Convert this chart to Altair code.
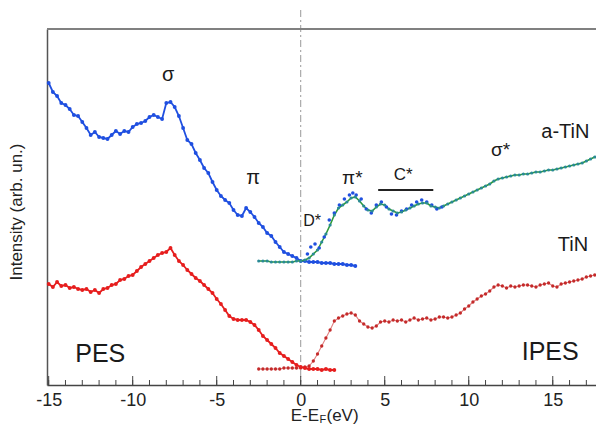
import altair as alt
import pandas as pd

# ---------------- data ----------------
ENERGY = [
    -15.0, -14.75, -14.5, -14.25, -14.0, -13.75, -13.5, -13.25,
    -13.0, -12.75, -12.5, -12.25, -12.0, -11.75, -11.5, -11.25,
    -11.0, -10.75, -10.5, -10.25, -10.0, -9.75, -9.5, -9.25,
    -9.0, -8.75, -8.5, -8.25, -8.0, -7.75, -7.5, -7.25,
    -7.0, -6.75, -6.5, -6.25, -6.0, -5.75, -5.5, -5.25,
    -5.0, -4.75, -4.5, -4.25, -4.0, -3.75, -3.5, -3.25,
    -3.0, -2.75, -2.5, -2.25, -2.0, -1.75, -1.5, -1.25,
    -1.0, -0.75, -0.5, -0.25, 0.0, 0.25, 0.5, 0.75,
    1.0, 1.25, 1.5, 1.75, 2.0, 2.25, 2.5, 2.75,
    3.0, 3.25, 3.5, 3.75, 4.0, 4.25, 4.5, 4.75,
    5.0, 5.25, 5.5, 5.75, 6.0, 6.25, 6.5, 6.75,
    7.0, 7.25, 7.5, 7.75, 8.0, 8.25, 8.5, 8.75,
    9.0, 9.25, 9.5, 9.75, 10.0, 10.25, 10.5, 10.75,
    11.0, 11.25, 11.5, 11.75, 12.0, 12.25, 12.5, 12.75,
    13.0, 13.25, 13.5, 13.75, 14.0, 14.25, 14.5, 14.75,
    15.0, 15.25, 15.5, 15.75, 16.0, 16.25, 16.5, 16.75,
    17.0, 17.25, 17.5, 17.75, 18.0,
]

# a-TiN PES (blue), starts at -15 eV
ATIN_PES = [
    302, 293, 289, 282, 280, 276, 270, 269,
    263, 257, 250, 253, 248, 247, 246, 250,
    254, 251, 254, 253, 258, 261, 262, 264,
    268, 270, 268, 266, 282, 283, 278, 269,
    257, 245, 241, 232, 225, 217, 212, 203,
    195, 189, 185, 182, 175, 170, 169, 177,
    173, 168, 162, 158, 152, 149, 143, 138,
    133, 131, 129, 127, 124, 124, 123, 123,
    123, 122, 122, 122, 121, 121, 121, 120,
    120, 119,
]

# a-TiN IPES (green fit), starts at -2.5 eV
ATIN_IPES = [
    124, 124, 124, 123, 123, 123, 123, 123,
    123, 124, 124, 125, 127, 131, 135, 143,
    151, 160, 170, 177, 180, 183, 187, 188,
    184, 179, 175, 174, 178, 181, 180, 176,
    174, 172, 173, 175, 177, 179, 181, 182,
    182, 179, 178, 177, 179, 181, 183, 185,
    187, 189, 191, 193, 195, 197, 199, 201,
    204, 206, 207, 208, 209, 210, 210, 211,
    211, 212, 213, 213, 214, 215, 215, 216,
    217, 218, 219, 220, 221, 222, 224, 226,
    228, 229, 230,
]

# a-TiN IPES raw points (blue) near the onset
ATIN_IPES_RAW_E = [0.4, 0.6, 0.85, 1.1, 1.4, 1.7, 2.0, 2.3, 2.6, 2.9, 3.1, 3.3, 3.6, 3.9,
                   4.2, 4.5, 4.8, 5.1, 5.4, 5.7, 6.0, 6.3, 6.6, 6.9, 7.2, 7.5, 7.8, 8.1, 8.4]
ATIN_IPES_RAW_I = [131, 138, 141, 137, 148, 165, 172, 180, 186, 190, 192, 190, 186, 176,
                   172, 180, 183, 178, 171, 170, 174, 176, 180, 183, 185, 183, 180, 176, 178]

# TiN PES (red), starts at -15 eV
TIN_PES = [
    101, 98, 103, 99, 100, 97, 98, 96,
    95, 96, 93, 95, 92, 96, 97, 100,
    101, 105, 106, 109, 110, 114, 118, 121,
    124, 127, 130, 132, 133, 137, 130, 124,
    120, 115, 111, 107, 104, 100, 96, 92,
    86, 81, 75, 69, 66, 65, 65, 65,
    63, 60, 55, 49, 45, 41, 37, 32,
    29, 26, 23, 20, 18, 17, 16, 16,
    16, 15, 16, 15, 15,
]

# TiN IPES (dark red points, pink fit), starts at -2.5 eV
TIN_IPES = [
    16, 16, 16, 16, 16, 16, 17, 17,
    17, 17, 17, 18, 19, 24, 31, 39,
    47, 55, 64, 67, 69, 71, 72, 70,
    64, 61, 58, 57, 59, 63, 64, 63,
    65, 64, 65, 63, 65, 67, 65, 66,
    67, 65, 66, 68, 68, 67, 68, 70,
    72, 76, 79, 83, 86, 89, 91, 94,
    98, 100, 99, 97, 99, 98, 99, 100,
    100, 99, 98, 100, 101, 102, 99, 98,
    101, 102, 103, 104, 105, 106, 108, 109,
    110, 111, 112,
]

X_TICKS = [-15, -10, -5, 0, 5, 10, 15]
MINOR_TICKS = [-15, -14, -13, -12, -11, -10, -9, -8, -7, -6, -5, -4, -3, -2, -1, 0, 1, 2,
               3, 4, 5, 6, 7, 8, 9, 10, 11, 12, 13, 14, 15, 16, 17, 18]

ANNOT_TEXT = ["σ", "π", "π*", "D*", "C*", "σ*", "a-TiN", "TiN", "PES", "IPES"]
ANNOT_E = [-7.89, -2.83, 3.07, 0.68, 6.1, 11.9, 15.75, 16.2, -11.93, 14.85]
ANNOT_I = [310, 207, 207, 164, 210, 235, 253, 140, 31, 33]
ANNOT_SIZE = [20, 20, 19, 16, 17, 19, 20, 20, 25, 25]

CSTAR_BAR = [4.61, 7.89]
CSTAR_I = 195

# ---------------- chart ----------------
W, H = 557, 356
FONT = "Liberation Sans"
XDOM = [-15.1, 18.05]
YDOM = [0, 356]


def X(axis=alt.Undefined):
    return alt.X("e:Q", title=None, scale=alt.Scale(domain=XDOM, nice=False, zero=False), axis=axis)


def Y(axis=alt.Undefined):
    return alt.Y("i:Q", title=None, scale=alt.Scale(domain=YDOM, nice=False, zero=False), axis=axis)


def series(vals, start):
    return pd.DataFrame({"e": ENERGY[start:start + len(vals)], "i": vals})


atin_pes = series(ATIN_PES, 0)
atin_ipes = series(ATIN_IPES, 50)
tin_pes = series(TIN_PES, 0)
tin_ipes = series(TIN_IPES, 50)
atin_raw = pd.DataFrame({"e": ATIN_IPES_RAW_E, "i": ATIN_IPES_RAW_I})

x_axis = alt.Axis(values=X_TICKS, title=None, grid=False, ticks=False, tickSize=0,
                  labelFont=FONT, labelFontSize=18, labelColor="#222222", labelPadding=6,
                  labelExpr="'' + datum.value", domainColor="#444444", domainWidth=1.5)
y_axis = alt.Axis(title=None, labels=False, ticks=False, grid=False,
                  domainColor="#555555", domainWidth=1.5)

BLUE = "#1f4fe0"
GREEN = "#2e9a3c"
TEAL = "#2a8a96"
RED = "#e61e1e"
DRED = "#c42a2a"
PINK = "#e08080"

base = alt.Chart(atin_pes).mark_line(color=BLUE, strokeWidth=1.8).encode(x=X(x_axis), y=Y(y_axis))
atin_pes_pts = alt.Chart(atin_pes).mark_point(filled=True, color=BLUE, size=15, opacity=1).encode(x=X(), y=Y())

atin_raw_pts = alt.Chart(atin_raw).mark_point(filled=True, color=BLUE, size=13, opacity=1).encode(x=X(), y=Y())
atin_ipes_line = alt.Chart(atin_ipes).mark_line(color=GREEN, strokeWidth=1.6).encode(x=X(), y=Y())
atin_ipes_pts = alt.Chart(atin_ipes).mark_point(filled=True, color=TEAL, size=10, opacity=1).encode(x=X(), y=Y())

tin_pes_line = alt.Chart(tin_pes).mark_line(color=RED, strokeWidth=1.8).encode(x=X(), y=Y())
tin_pes_pts = alt.Chart(tin_pes).mark_point(filled=True, color=RED, size=15, opacity=1).encode(x=X(), y=Y())

tin_ipes_line = alt.Chart(tin_ipes).mark_line(color=PINK, strokeWidth=1.1).encode(x=X(), y=Y())
tin_ipes_pts = alt.Chart(tin_ipes).mark_point(filled=True, color=DRED, size=11, opacity=1).encode(x=X(), y=Y())

zero_line = alt.Chart(pd.DataFrame({"e": [0]})).mark_rule(
    color="#9a9a9a", strokeWidth=1, strokeDash=[7, 3, 2, 3]
).encode(x=X(), y=alt.value(-19), y2=alt.value(H))

top_line = alt.Chart(pd.DataFrame({"e": [0]})).mark_rule(color="#808080", strokeWidth=2).encode(
    x=alt.value(0), x2=alt.value(W), y=alt.value(0)
)

ticks_df = pd.DataFrame({"e": MINOR_TICKS})
minor = alt.Chart(ticks_df).mark_rule(color="#444444", strokeWidth=1).encode(
    x=X(), y=alt.value(H), y2=alt.value(H - 5)
)
major = alt.Chart(pd.DataFrame({"e": X_TICKS})).mark_rule(color="#444444", strokeWidth=1).encode(
    x=X(), y=alt.value(H), y2=alt.value(H - 9)
)

cbar = alt.Chart(pd.DataFrame({"e": [CSTAR_BAR[0]], "e2": [CSTAR_BAR[1]], "i": [CSTAR_I]})).mark_rule(
    color="#222222", strokeWidth=2
).encode(x=X(), x2="e2:Q", y=Y())

annot = alt.Chart(pd.DataFrame({"t": ANNOT_TEXT, "e": ANNOT_E, "i": ANNOT_I, "s": ANNOT_SIZE})).mark_text(
    font=FONT, color="#1a1a1a", align="center", baseline="middle"
).encode(x=X(), y=Y(), text="t:N", size=alt.Size("s:Q", scale=None))

ytitle = alt.Chart(pd.DataFrame({"t": ["Intensity (arb. un.)"]})).mark_text(
    font=FONT, fontSize=17, color="#222222", angle=270, align="center", baseline="middle"
).encode(x=alt.value(-30), y=alt.value(183), text="t:N")

xt1 = alt.Chart(pd.DataFrame({"t": ["E-E"]})).mark_text(
    font=FONT, fontSize=17, color="#222222", align="right", baseline="alphabetic"
).encode(x=alt.value(272), y=alt.value(392), text="t:N")
xt2 = alt.Chart(pd.DataFrame({"t": ["F"]})).mark_text(
    font=FONT, fontSize=11, color="#222222", align="left", baseline="alphabetic"
).encode(x=alt.value(272.5), y=alt.value(394), text="t:N")
xt3 = alt.Chart(pd.DataFrame({"t": ["(eV)"]})).mark_text(
    font=FONT, fontSize=17, color="#222222", align="left", baseline="alphabetic"
).encode(x=alt.value(279.5), y=alt.value(392), text="t:N")

chart = alt.layer(
    base, zero_line, top_line, minor, major,
    tin_ipes_line, tin_ipes_pts, tin_pes_line, tin_pes_pts,
    atin_pes_pts, atin_ipes_line, atin_raw_pts, atin_ipes_pts,
    cbar, annot, ytitle, xt1, xt2, xt3,
).properties(
    width=W, height=H,
    padding={"left": 39, "top": 21, "right": -8, "bottom": 40},
    autosize=alt.AutoSizeParams(type="none"),
).configure_view(stroke=None)

chart.save("out.html", embed_options={"renderer": "svg", "actions": False})
